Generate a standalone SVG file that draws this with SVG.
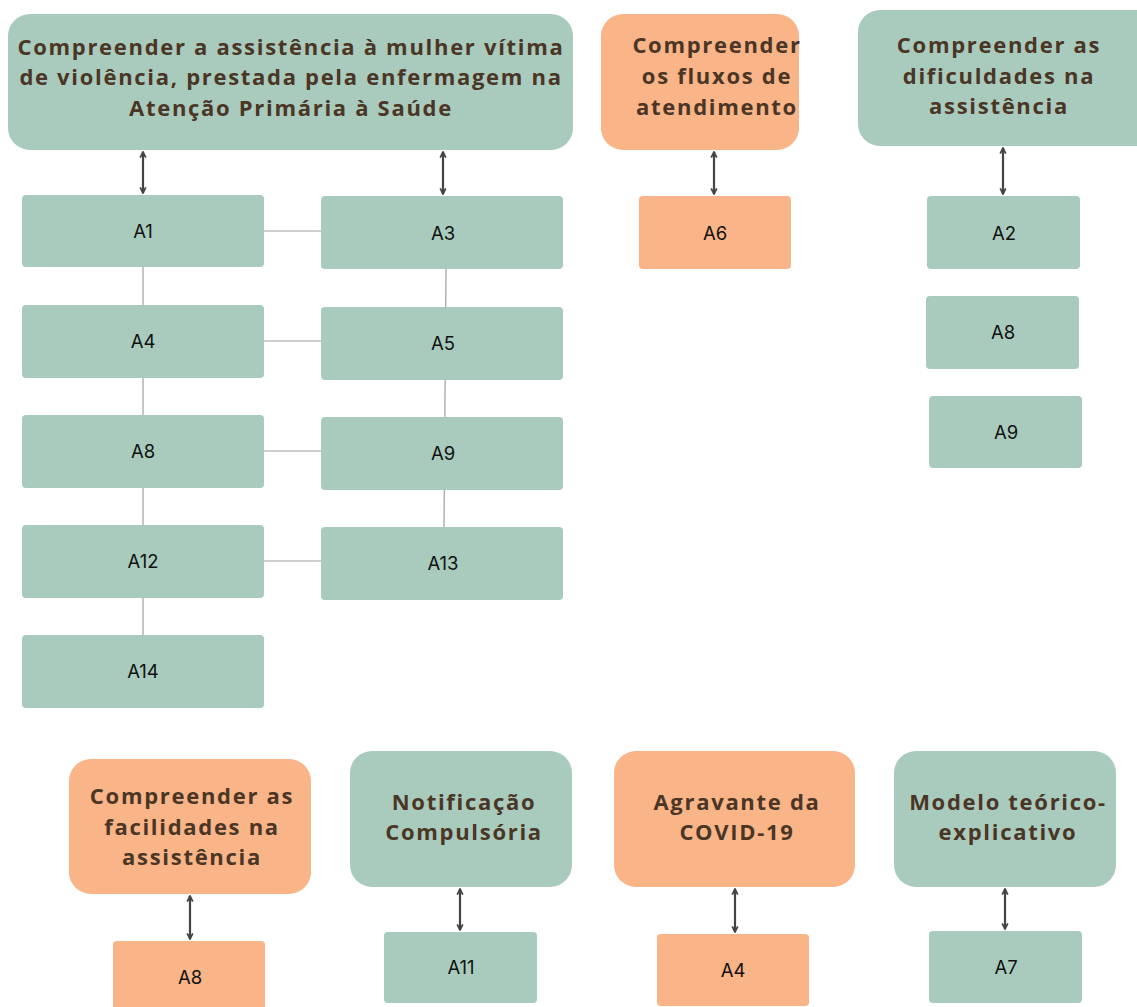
<svg xmlns="http://www.w3.org/2000/svg" width="1137" height="1007" viewBox="0 0 1137 1007">
<style>
.g{fill:#a9cbbd}
.o{fill:#f9b488}
.h{font-family:"Open Sans","DejaVu Sans",sans-serif;font-weight:bold;font-size:22px;letter-spacing:1.7px;fill:#4b3626;text-anchor:middle}
.l{font-family:Inter,"Liberation Sans",sans-serif;font-size:18.5px;fill:#111;text-anchor:middle;dominant-baseline:central}
.c{stroke:#a0a0a0;stroke-width:1.2;fill:none}
.a{stroke:#444;stroke-width:2.2;fill:none;marker-start:url(#ah);marker-end:url(#ah)}
</style>
<defs>
<marker id="ah" viewBox="0 0 10 10" refX="9" refY="5" markerWidth="8" markerHeight="9" orient="auto-start-reverse" markerUnits="userSpaceOnUse">
<path d="M2,1.5 L9,5 L2,8.5" fill="none" stroke="#444" stroke-width="2.2"/>
</marker>
</defs>
<rect width="1137" height="1007" fill="#fff"/>
<g id="connectors">
<line class="c" x1="143" y1="267" x2="143" y2="635"/>
<line class="c" x1="446" y1="269" x2="444" y2="527"/>
<line class="c" x1="264" y1="231" x2="321" y2="231"/>
<line class="c" x1="264" y1="341" x2="321" y2="341"/>
<line class="c" x1="264" y1="451" x2="321" y2="451"/>
<line class="c" x1="264" y1="561" x2="321" y2="561"/>
<line class="a" x1="143" y1="152" x2="143" y2="193"/>
<line class="a" x1="443" y1="152" x2="443" y2="194"/>
<line class="a" x1="714" y1="152" x2="714" y2="194"/>
<line class="a" x1="1003" y1="148" x2="1003" y2="194"/>
<line class="a" x1="190" y1="896" x2="190" y2="939"/>
<line class="a" x1="460" y1="889" x2="460" y2="930"/>
<line class="a" x1="735" y1="889" x2="735" y2="932"/>
<line class="a" x1="1005" y1="889" x2="1005" y2="929"/>
</g>
<g id="main"><rect class="g" x="8" y="14" width="565" height="136" rx="22"/>
<text class="h" x="291" y="55">Compreender a assistência à mulher vítima</text>
<text class="h" x="291" y="85">de violência, prestada pela enfermagem na</text>
<text class="h" x="291" y="116">Atenção Primária à Saúde</text></g>
<g id="fluxos"><rect class="o" x="601" y="14" width="198" height="136" rx="22"/>
<text class="h" x="717" y="53">Compreender</text>
<text class="h" x="717" y="84">os fluxos de</text>
<text class="h" x="717" y="115">atendimento</text></g>
<g id="dificuldades"><rect class="g" x="858" y="10" width="300" height="136" rx="22"/>
<text class="h" x="999" y="53">Compreender as</text>
<text class="h" x="999" y="84">dificuldades na</text>
<text class="h" x="999" y="114">assistência</text></g>
<g id="n-a1"><rect class="g" x="22" y="195" width="242" height="72" rx="4"/><text class="l" x="143" y="231">A1</text></g>
<g id="n-a3"><rect class="g" x="321" y="196" width="242" height="73" rx="4"/><text class="l" x="443" y="233">A3</text></g>
<g id="n-a4"><rect class="g" x="22" y="305" width="242" height="73" rx="4"/><text class="l" x="143" y="341">A4</text></g>
<g id="n-a5"><rect class="g" x="321" y="307" width="242" height="73" rx="4"/><text class="l" x="443" y="343">A5</text></g>
<g id="n-a8"><rect class="g" x="22" y="415" width="242" height="73" rx="4"/><text class="l" x="143" y="451">A8</text></g>
<g id="n-a9"><rect class="g" x="321" y="417" width="242" height="73" rx="4"/><text class="l" x="443" y="453">A9</text></g>
<g id="n-a12"><rect class="g" x="22" y="525" width="242" height="73" rx="4"/><text class="l" x="143" y="561">A12</text></g>
<g id="n-a13"><rect class="g" x="321" y="527" width="242" height="73" rx="4"/><text class="l" x="443" y="563">A13</text></g>
<g id="n-a14"><rect class="g" x="22" y="635" width="242" height="73" rx="4"/><text class="l" x="143" y="671">A14</text></g>
<g id="n-a6"><rect class="o" x="639" y="196" width="152" height="73" rx="4"/><text class="l" x="715" y="233">A6</text></g>
<g id="n-a2"><rect class="g" x="927" y="196" width="153" height="73" rx="4"/><text class="l" x="1004" y="233">A2</text></g>
<g id="n-a8b"><rect class="g" x="926" y="296" width="153" height="73" rx="4"/><text class="l" x="1003" y="332">A8</text></g>
<g id="n-a9b"><rect class="g" x="929" y="396" width="153" height="72" rx="4"/><text class="l" x="1006" y="432">A9</text></g>
<g id="facilidades"><rect class="o" x="69" y="759" width="242" height="135" rx="22"/>
<text class="h" x="192" y="804">Compreender as</text>
<text class="h" x="192" y="835">facilidades na</text>
<text class="h" x="192" y="865">assistência</text></g>
<g id="notificacao"><rect class="g" x="350" y="751" width="222" height="136" rx="22"/>
<text class="h" x="464" y="810">Notificação</text>
<text class="h" x="464" y="840">Compulsória</text></g>
<g id="covid"><rect class="o" x="614" y="751" width="241" height="136" rx="22"/>
<text class="h" x="737" y="810">Agravante da</text>
<text class="h" x="737" y="840">COVID-19</text></g>
<g id="modelo"><rect class="g" x="894" y="751" width="222" height="136" rx="22"/>
<text class="h" x="1008" y="810">Modelo teórico-</text>
<text class="h" x="1008" y="840">explicativo</text></g>
<g id="n-a8c"><rect class="o" x="113" y="941" width="152" height="80" rx="4"/><text class="l" x="190" y="977">A8</text></g>
<g id="n-a11"><rect class="g" x="384" y="932" width="153" height="71" rx="4"/><text class="l" x="461" y="967">A11</text></g>
<g id="n-a4b"><rect class="o" x="657" y="934" width="152" height="72" rx="4"/><text class="l" x="733" y="970">A4</text></g>
<g id="n-a7"><rect class="g" x="929" y="931" width="153" height="72" rx="4"/><text class="l" x="1006" y="967">A7</text></g>
</svg>
